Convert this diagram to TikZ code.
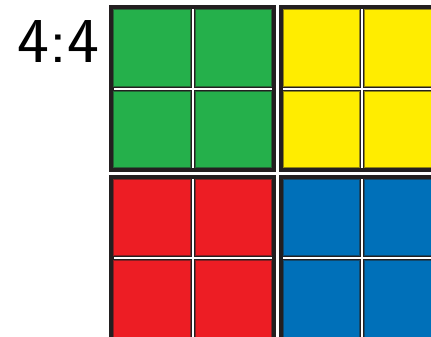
\documentclass[tikz,border=0pt]{standalone}
\usepackage{tikz}
\usetikzlibrary{positioning}
\definecolor{sqgreen}{RGB}{37,176,75}
\definecolor{sqyellow}{RGB}{255,237,0}
\definecolor{sqred}{RGB}{237,29,36}
\definecolor{sqblue}{RGB}{0,112,185}
\definecolor{sqblack}{RGB}{35,31,32}

\begin{document}
\begin{tikzpicture}[
    x=1pt, y=-1pt,
    block/.style={fill=sqblack, minimum size=167pt, inner sep=0pt, outer sep=0pt},
    cell/.style={fill=#1, draw=sqblack!50!#1, line width=0.9pt, minimum size=76.5pt, inner sep=0pt, outer sep=0pt},
    vbar/.style={fill=white, minimum width=2pt, minimum height=158pt, inner sep=0pt},
    hbar/.style={fill=white, minimum width=158pt, minimum height=2pt, inner sep=0pt}
]
\useasboundingbox (0,0) rectangle (431,337);
\clip (0,0) rectangle (431,337);

% label
\node[anchor=base east, inner sep=0pt, font=\sffamily\fontsize{64}{64}\selectfont] (ratio) at (99.5,63) {\scalebox{1.06}[1]{4:4}};

% the four blocks
\node[block] (gblock) at (192.5,88.5) {};
\node[block, right=2.5pt of gblock] (yblock) {};
\node[block, below=2.5pt of gblock] (rblock) {};
\node[block, right=2.5pt of rblock] (bblock) {};

% green
\node[cell=sqgreen, below right=4.5pt and 4.5pt of gblock.north west] (g1) {};
\node[cell=sqgreen, right=5pt of g1] (g2) {};
\node[cell=sqgreen, below=5pt of g1] (g3) {};
\node[cell=sqgreen, right=5pt of g3] (g4) {};
\node[vbar] at (gblock.center) {};
\node[hbar] at (gblock.center) {};

% yellow
\node[cell=sqyellow, below right=4.5pt and 4.5pt of yblock.north west] (y1) {};
\node[cell=sqyellow, right=5pt of y1] (y2) {};
\node[cell=sqyellow, below=5pt of y1] (y3) {};
\node[cell=sqyellow, right=5pt of y3] (y4) {};
\node[vbar] at (yblock.center) {};
\node[hbar] at (yblock.center) {};

% red
\node[cell=sqred, below right=4.5pt and 4.5pt of rblock.north west] (r1) {};
\node[cell=sqred, right=5pt of r1] (r2) {};
\node[cell=sqred, below=5pt of r1] (r3) {};
\node[cell=sqred, right=5pt of r3] (r4) {};
\node[vbar] at (rblock.center) {};
\node[hbar] at (rblock.center) {};

% blue
\node[cell=sqblue, below right=4.5pt and 4.5pt of bblock.north west] (b1) {};
\node[cell=sqblue, right=5pt of b1] (b2) {};
\node[cell=sqblue, below=5pt of b1] (b3) {};
\node[cell=sqblue, right=5pt of b3] (b4) {};
\node[vbar] at (bblock.center) {};
\node[hbar] at (bblock.center) {};
\end{tikzpicture}
\end{document}
